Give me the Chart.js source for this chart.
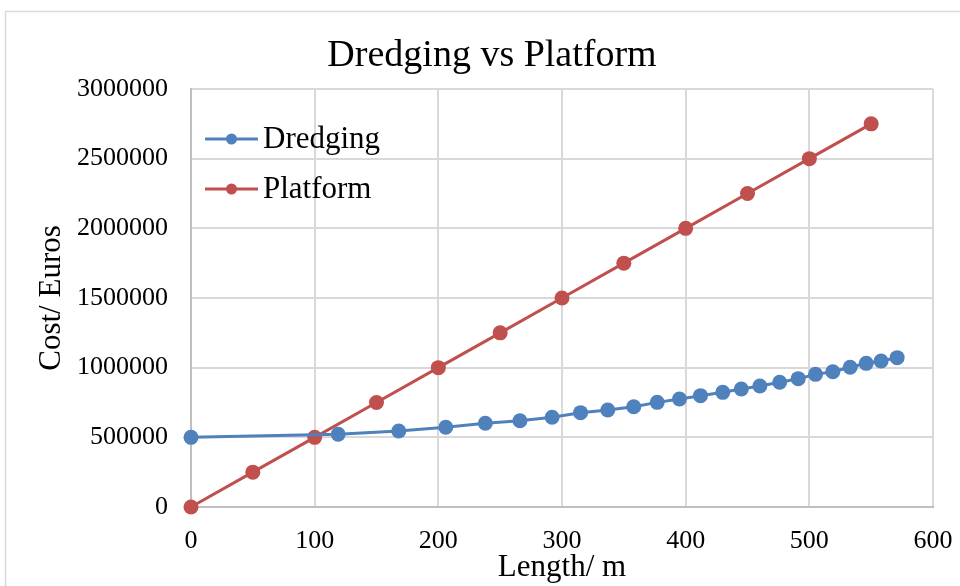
<!DOCTYPE html>
<html>
<head>
<meta charset="utf-8">
<script src="https://cdn.jsdelivr.net/npm/chart.js@4/dist/chart.umd.min.js"></script>
<style>
  html, body { margin: 0; padding: 0; background: #ffffff; }
  #wrap { width: 960px; height: 586px; position: relative; }
</style>
</head>
<body>
<div id="wrap"><canvas id="c" width="960" height="586"></canvas></div>
<script>
// Cost of dredging versus building a platform, by length
const chartTitle = 'Dredging vs Platform';
const dredgingLength = [0, 119, 168, 206, 238, 266, 292, 315, 337, 358, 377, 395, 412, 430, 445, 460, 476, 491, 505, 519, 533, 546, 558, 571];
const dredgingCost = [500000, 522000, 545000, 572000, 601000, 619000, 644000, 677000, 696000, 720000, 751000, 775000, 799000, 823000, 847000, 868000, 895000, 921000, 952000, 971000, 1003000, 1031000, 1048000, 1072000];
const platformLength = [0, 50, 100, 150, 200, 250, 300, 350, 400, 450, 500, 550];
const platformCost = [0, 250000, 500000, 750000, 1000000, 1250000, 1500000, 1750000, 2000000, 2250000, 2500000, 2750000];
const xTicks = [0, 100, 200, 300, 400, 500, 600];
const yTicks = [0, 500000, 1000000, 1500000, 2000000, 2500000, 3000000];

const SERIF = '"Liberation Serif", "Times New Roman", serif';
const BLUE = '#4F81BD';
const RED = '#C0504D';
const GRID = '#D9D9D9';

const toPoints = (xs, ys) => xs.map((x, i) => ({ x: x, y: ys[i] }));

// Outer frame and heading
const framePlugin = {
  id: 'frame',
  beforeDraw(chart) {
    const ctx = chart.ctx;
    ctx.save();
    ctx.fillStyle = '#ffffff';
    ctx.fillRect(0, 0, chart.width, chart.height);
    ctx.strokeStyle = GRID;
    ctx.lineWidth = 1.5;
    ctx.strokeRect(5.5, 11.5, chart.width + 10, chart.height + 10);
    ctx.fillStyle = '#000000';
    ctx.font = '38px ' + SERIF;
    ctx.textAlign = 'center';
    ctx.textBaseline = 'middle';
    ctx.fillText(chartTitle, 492, 56);
    ctx.restore();
  }
};

// Legend drawn inside the plot, top-left
const insideLegend = {
  id: 'insideLegend',
  afterDatasetsDraw(chart) {
    const ctx = chart.ctx;
    const area = chart.chartArea;
    const x0 = area.left + 14;
    const rows = [area.top + 50, area.top + 100];
    ctx.save();
    chart.data.datasets.forEach((ds, i) => {
      const y = rows[i];
      ctx.strokeStyle = ds.borderColor;
      ctx.lineWidth = 3;
      ctx.beginPath();
      ctx.moveTo(x0, y);
      ctx.lineTo(x0 + 53, y);
      ctx.stroke();
      ctx.fillStyle = ds.backgroundColor;
      ctx.beginPath();
      ctx.arc(x0 + 26.5, y, 5.5, 0, Math.PI * 2);
      ctx.fill();
      ctx.fillStyle = '#000000';
      ctx.font = '31px ' + SERIF;
      ctx.textBaseline = 'middle';
      ctx.textAlign = 'left';
      ctx.fillText(ds.label, x0 + 58, y + 1);
    });
    ctx.restore();
  }
};

new Chart(document.getElementById('c'), {
  type: 'line',
  data: {
    datasets: [
      {
        label: 'Dredging',
        data: toPoints(dredgingLength, dredgingCost),
        borderColor: BLUE,
        backgroundColor: BLUE,
        borderWidth: 3,
        pointRadius: 7.5,
        pointHoverRadius: 7.5,
        pointBorderWidth: 0,
        tension: 0,
        clip: false
      },
      {
        label: 'Platform',
        data: toPoints(platformLength, platformCost),
        borderColor: RED,
        backgroundColor: RED,
        borderWidth: 3,
        pointRadius: 7.5,
        pointHoverRadius: 7.5,
        pointBorderWidth: 0,
        tension: 0,
        clip: false
      }
    ]
  },
  options: {
    responsive: false,
    animation: false,
    layout: { autoPadding: false, padding: { left: 0, right: 27, top: 89, bottom: 0 } },
    plugins: {
      legend: { display: false },
      tooltip: { enabled: false },
      title: { display: false }
    },
    scales: {
      x: {
        type: 'linear',
        min: 0,
        max: 600,
        afterBuildTicks(scale) { scale.ticks = xTicks.map(v => ({ value: v })); },
        afterFit(scale) {
          scale.height = 79;
          scale.paddingLeft = 0;
          scale.paddingRight = 20;
        },
        grid: { color: GRID, lineWidth: 2, drawTicks: false },
        border: { color: '#BFBFBF', width: 2 },
        ticks: {
          color: '#000000',
          padding: 19,
          font: { family: SERIF, size: 26 },
          maxRotation: 0
        },
        title: {
          display: true,
          text: 'Length/ m',
          color: '#000000',
          font: { family: SERIF, size: 31 },
          padding: { top: 0, bottom: 0 }
        }
      },
      y: {
        type: 'linear',
        min: 0,
        max: 3000000,
        afterBuildTicks(scale) { scale.ticks = yTicks.map(v => ({ value: v })); },
        afterFit(scale) { scale.width = 191; },
        grid: { color: GRID, lineWidth: 2, drawTicks: false },
        border: { color: '#BFBFBF', width: 2 },
        ticks: {
          color: '#000000',
          padding: 23,
          font: { family: SERIF, size: 26 },
          callback: v => String(v)
        },
        title: {
          display: true,
          text: 'Cost/ Euros',
          color: '#000000',
          font: { family: SERIF, size: 31 },
          padding: { top: 33, bottom: 0 }
        }
      }
    }
  },
  plugins: [framePlugin, insideLegend]
});
</script>
</body>
</html>
